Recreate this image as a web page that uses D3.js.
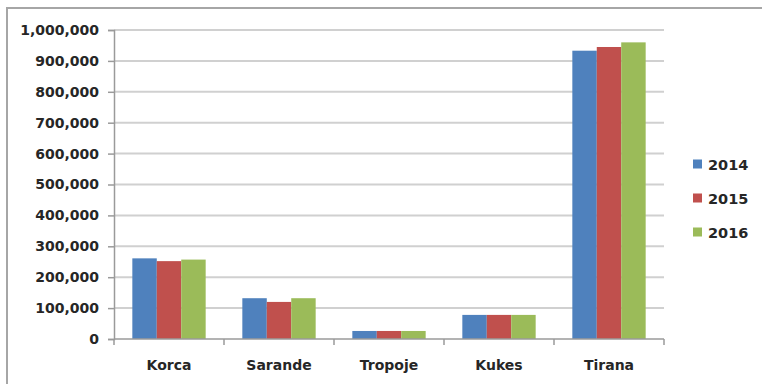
<!DOCTYPE html>
<html>
<head>
<meta charset="utf-8">
<script src="https://cdn.jsdelivr.net/npm/d3@7"></script>
<style>
  html, body { margin: 0; padding: 0; background: #fff; }
  svg { display: block; }
  text { font-family: "DejaVu Sans", sans-serif; font-weight: 700; fill: #262626; }
</style>
</head>
<body>
<svg id="chart" width="762" height="384"></svg>
<script>
// Cities on the category axis
const cities = ["Korca", "Sarande", "Tropoje", "Kukes", "Tirana"];
// Yearly series
const years = ["2014", "2015", "2016"];
const values2014 = [261000, 132000, 26000, 78000, 933000];
const values2015 = [252000, 120000, 26000, 78000, 945000];
const values2016 = [257000, 132000, 26000, 78000, 960000];
const yTicks = [0, 100000, 200000, 300000, 400000, 500000, 600000, 700000, 800000, 900000, 1000000];
const colors = ["#4F81BD", "#C0504D", "#9BBB59"];

const seriesValues = [values2014, values2015, values2016];

const svg = d3.select("#chart");

// outer chart frame
svg.append("rect")
  .attr("x", 7).attr("y", 8)
  .attr("width", 800).attr("height", 400)
  .attr("fill", "none")
  .attr("stroke", "#a6a6a6")
  .attr("stroke-width", 2);

const plot = { left: 114, right: 664, top: 30, bottom: 339 };

// bars fill 2/3 of each category slot, centred
const x0 = d3.scaleBand()
  .domain(cities)
  .range([plot.left, plot.right])
  .paddingInner(1 / 3)
  .paddingOuter(1 / 6);

const x1 = d3.scaleBand()
  .domain(years)
  .range([0, x0.bandwidth()]);

const y = d3.scaleLinear()
  .domain([0, 1000000])
  .range([plot.bottom, plot.top]);

// horizontal gridlines
svg.append("g")
  .selectAll("line")
  .data(yTicks.filter(d => d > 0))
  .join("line")
  .attr("x1", plot.left).attr("x2", plot.right)
  .attr("y1", d => y(d)).attr("y2", d => y(d))
  .attr("stroke", "#d0d0d0")
  .attr("stroke-width", 2);

// y axis
const yAxis = d3.axisLeft(y)
  .tickValues(yTicks)
  .tickFormat(d3.format(","))
  .tickSize(6)
  .tickPadding(9);

const gy = svg.append("g")
  .attr("transform", `translate(${plot.left},0)`)
  .call(yAxis);
gy.select(".domain").attr("stroke", "#9a9a9a").attr("stroke-width", 1.5);
gy.selectAll(".tick line").attr("stroke", "#9a9a9a").attr("stroke-width", 1.5);
gy.selectAll(".tick text")
  .attr("font-size", 14)
  .style("font-family", "\"DejaVu Sans\", sans-serif")
  .style("font-weight", 700)
  .attr("fill", "#262626");

// bars
const groups = svg.append("g")
  .selectAll("g")
  .data(cities)
  .join("g")
  .attr("transform", d => `translate(${x0(d)},0)`);

groups.selectAll("rect")
  .data((city, i) => years.map((yr, k) => ({ yr, k, v: seriesValues[k][i] })))
  .join("rect")
  .attr("x", d => x1(d.yr))
  .attr("width", x1.bandwidth())
  .attr("y", d => y(d.v))
  .attr("height", d => y(0) - y(d.v))
  .attr("fill", d => colors[d.k]);

// category axis with ticks between categories
const step = x0.step();
const gx = svg.append("g");
gx.append("line")
  .attr("x1", plot.left).attr("x2", plot.right)
  .attr("y1", plot.bottom).attr("y2", plot.bottom)
  .attr("stroke", "#9a9a9a").attr("stroke-width", 1.5);
gx.selectAll("line.tk")
  .data(d3.range(cities.length + 1))
  .join("line")
  .attr("class", "tk")
  .attr("x1", i => plot.left + i * step)
  .attr("x2", i => plot.left + i * step)
  .attr("y1", plot.bottom).attr("y2", plot.bottom + 6)
  .attr("stroke", "#9a9a9a").attr("stroke-width", 1.5);
gx.selectAll("text")
  .data(cities)
  .join("text")
  .attr("x", d => x0(d) + x0.bandwidth() / 2)
  .attr("y", 370)
  .attr("text-anchor", "middle")
  .attr("font-size", 14)
  .text(d => d);

// legend
const legend = svg.append("g");
const legendY = [164, 198, 232];
years.forEach((yr, k) => {
  legend.append("rect")
    .attr("x", 693).attr("y", legendY[k] - 4.5)
    .attr("width", 9).attr("height", 9)
    .attr("fill", colors[k]);
  legend.append("text")
    .attr("x", 708).attr("y", legendY[k] + 5.5)
    .attr("font-size", 14.5)
    .text(yr);
});
</script>
</body>
</html>
